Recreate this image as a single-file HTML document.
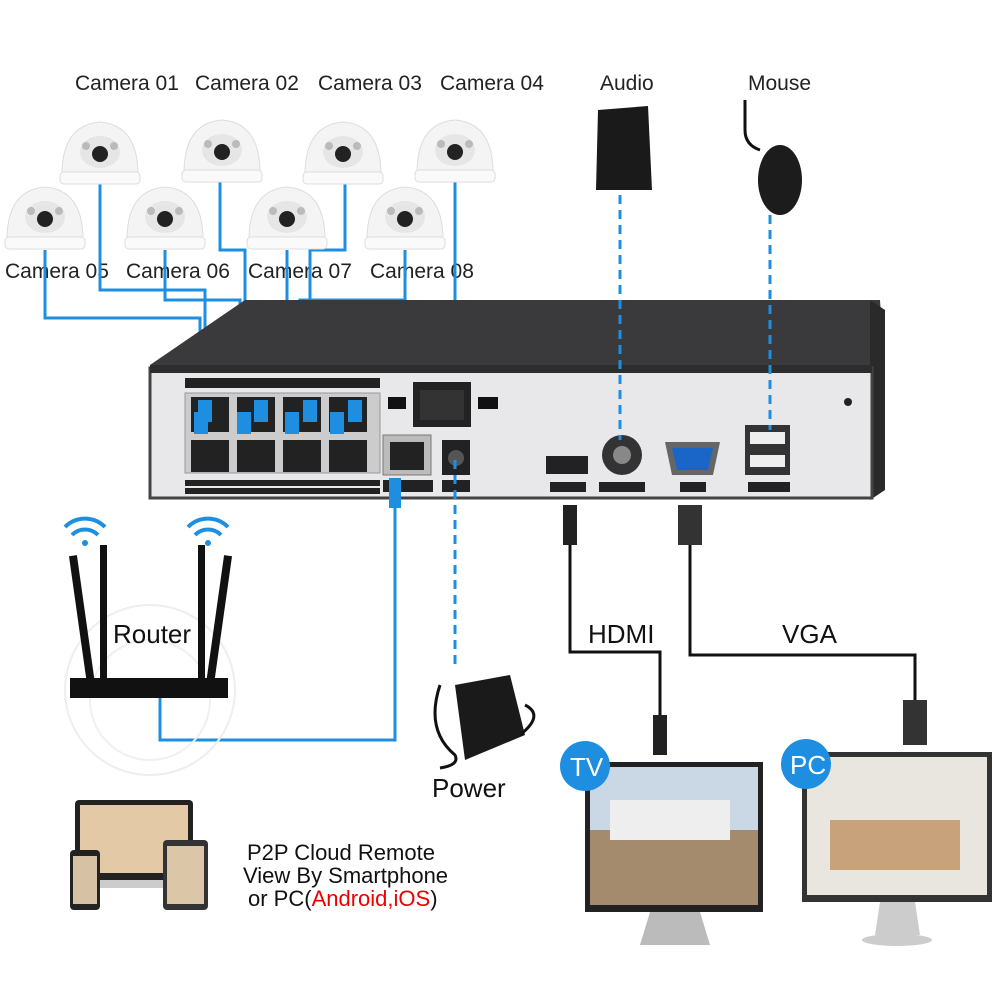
<!DOCTYPE html>
<html><head><meta charset="utf-8"><style>
html,body{margin:0;padding:0;background:#fff}
svg{display:block}
text{font-family:"Liberation Sans",sans-serif}
</style></head><body>
<svg width="1000" height="1000" viewBox="0 0 1000 1000" xmlns="http://www.w3.org/2000/svg">
<rect width="1000" height="1000" fill="#fff"/>
<g font-size="21" fill="#222">
<text x="75" y="90">Camera 01</text><text x="195" y="90">Camera 02</text>
<text x="318" y="90">Camera 03</text><text x="440" y="90">Camera 04</text>
<text x="5" y="278">Camera 05</text><text x="126" y="278">Camera 06</text>
<text x="248" y="278">Camera 07</text><text x="370" y="278">Camera 08</text>
<text x="600" y="90">Audio</text><text x="748" y="90">Mouse</text>
</g>
<defs>
<g id="cam">
<path d="M-38,25 Q-38,-25 0,-28 Q38,-25 38,25 Z" fill="#f4f4f4" stroke="#ddd"/>
<rect x="-40" y="22" width="80" height="12" rx="4" fill="#fafafa" stroke="#ddd"/>
<ellipse cx="0" cy="2" rx="20" ry="16" fill="#e6e6e6"/>
<circle cx="0" cy="4" r="8" fill="#222"/>
<circle cx="-14" cy="-4" r="4" fill="#bbb"/><circle cx="14" cy="-4" r="4" fill="#bbb"/>
</g>
<g id="wifi" fill="none" stroke="#1e8fe0" stroke-width="4">
<path d="M-20,-8 A28,28 0 0 1 20,-8"/><path d="M-13,0 A18,18 0 0 1 13,0"/><circle cx="0" cy="8" r="3" fill="#1e8fe0" stroke="none"/>
</g>
</defs>
<g fill="none" stroke="#1e8fe0" stroke-width="3">
<path d="M100,180 V290 H205 V400"/>
<path d="M220,180 V250 H245 V430"/>
<path d="M345,180 V250 H310 V430"/>
<path d="M455,180 V318 H355 V400"/>
<path d="M45,250 V318 H200 V430"/>
<path d="M165,250 V300 H240 V400"/>
<path d="M287,250 V430"/>
<path d="M405,250 V300 H300 V400"/>
</g>
<use href="#cam" x="100" y="150"/><use href="#cam" x="222" y="148"/>
<use href="#cam" x="343" y="150"/><use href="#cam" x="455" y="148"/>
<use href="#cam" x="45" y="215"/><use href="#cam" x="165" y="215"/>
<use href="#cam" x="287" y="215"/><use href="#cam" x="405" y="215"/>
<path d="M598,110 L648,106 L652,190 L596,190 Z" fill="#1a1a1a"/>
<path d="M745,100 V130 Q745,145 760,150" stroke="#111" stroke-width="3" fill="none"/>
<ellipse cx="780" cy="180" rx="22" ry="35" fill="#1c1c1c"/>
<path d="M150,365 L245,300 L880,300 L885,380 L150,380 Z" fill="#3a3a3c"/>
<path d="M870,300 L885,310 L885,490 L870,500 Z" fill="#2a2a2a"/>
<rect x="150" y="368" width="722" height="130" fill="#e8e8ea" stroke="#444" stroke-width="3"/>
<rect x="150" y="365" width="722" height="8" fill="#2d2d2d"/>
<rect x="185" y="378" width="195" height="10" fill="#222"/>
<rect x="185" y="393" width="195" height="80" fill="#ccc" stroke="#999"/>
<g fill="#222">
<rect x="191" y="397" width="38" height="35"/><rect x="237" y="397" width="38" height="35"/>
<rect x="283" y="397" width="38" height="35"/><rect x="329" y="397" width="38" height="35"/>
<rect x="191" y="440" width="38" height="32"/><rect x="237" y="440" width="38" height="32"/>
<rect x="283" y="440" width="38" height="32"/><rect x="329" y="440" width="38" height="32"/>
<rect x="185" y="480" width="195" height="6"/><rect x="185" y="488" width="195" height="6"/>
</g>
<g fill="#1e8fe0">
<rect x="198" y="400" width="14" height="22"/><rect x="237" y="412" width="14" height="22"/>
<rect x="254" y="400" width="14" height="22"/><rect x="285" y="412" width="14" height="22"/>
<rect x="303" y="400" width="14" height="22"/><rect x="330" y="412" width="14" height="22"/>
<rect x="348" y="400" width="14" height="22"/><rect x="194" y="412" width="14" height="22"/>
</g>
<rect x="413" y="382" width="58" height="45" fill="#222"/><rect x="420" y="390" width="44" height="30" fill="#333"/>
<rect x="388" y="397" width="18" height="12" fill="#111"/><rect x="478" y="397" width="20" height="12" fill="#111"/>
<rect x="383" y="435" width="48" height="40" fill="#bbb" stroke="#777"/><rect x="390" y="442" width="34" height="28" fill="#222"/>
<rect x="442" y="440" width="28" height="35" fill="#222"/><circle cx="456" cy="458" r="8" fill="#555"/>
<rect x="383" y="480" width="50" height="12" fill="#222"/><rect x="442" y="480" width="28" height="12" fill="#222"/>
<rect x="546" y="456" width="42" height="18" fill="#222"/><rect x="550" y="482" width="36" height="10" fill="#222"/>
<circle cx="622" cy="455" r="20" fill="#333"/><circle cx="622" cy="455" r="9" fill="#888"/>
<rect x="599" y="482" width="46" height="10" fill="#222"/>
<path d="M665,442 H720 L713,475 H672 Z" fill="#666"/><path d="M672,448 H713 L708,470 H677 Z" fill="#1a66c8"/>
<rect x="680" y="482" width="26" height="10" fill="#222"/>
<rect x="745" y="425" width="45" height="50" fill="#333"/><rect x="750" y="432" width="35" height="12" fill="#eee"/><rect x="750" y="455" width="35" height="12" fill="#eee"/>
<rect x="748" y="482" width="42" height="10" fill="#222"/>
<circle cx="848" cy="402" r="4" fill="#222"/>
<g stroke="#1e8fe0" stroke-width="3" stroke-dasharray="9,6" fill="none">
<path d="M620,195 V440"/><path d="M770,215 V430"/><path d="M455,460 V670"/>
</g>
<path d="M395,480 V740 H160 V690" fill="none" stroke="#1e8fe0" stroke-width="3"/>
<rect x="389" y="478" width="12" height="30" fill="#1e8fe0"/>
<circle cx="150" cy="690" r="85" fill="none" stroke="#eee" stroke-width="2"/>
<circle cx="150" cy="700" r="60" fill="none" stroke="#f0f0f0" stroke-width="2"/>
<rect x="78" y="555" width="8" height="130" fill="#111" transform="rotate(-8 82 620)"/>
<rect x="100" y="545" width="7" height="135" fill="#111"/>
<rect x="198" y="545" width="7" height="135" fill="#111"/>
<rect x="215" y="555" width="8" height="130" fill="#111" transform="rotate(8 219 620)"/>
<rect x="70" y="678" width="158" height="20" fill="#111"/>
<use href="#wifi" x="85" y="535"/><use href="#wifi" x="208" y="535"/>
<text x="113" y="643" font-size="26" fill="#111">Router</text>
<path d="M455,685 L510,675 L525,735 L465,760 Z" fill="#1a1a1a"/>
<path d="M440,685 Q425,730 455,755 Q460,765 440,768" stroke="#111" stroke-width="3" fill="none"/>
<path d="M525,705 Q545,715 520,735" stroke="#111" stroke-width="3" fill="none"/>
<text x="432" y="797" font-size="26" fill="#111">Power</text>
<g stroke="#111" stroke-width="3" fill="none">
<path d="M570,540 V652 H660 V720"/><path d="M690,540 V655 H915 V700"/>
</g>
<rect x="563" y="505" width="14" height="40" fill="#222"/>
<rect x="653" y="715" width="14" height="40" fill="#222"/>
<rect x="678" y="505" width="24" height="40" fill="#333"/>
<rect x="903" y="700" width="24" height="45" fill="#333"/>
<text x="588" y="643" font-size="26" fill="#111">HDMI</text>
<text x="782" y="643" font-size="26" fill="#111">VGA</text>
<rect x="585" y="762" width="178" height="150" fill="#222"/>
<rect x="590" y="767" width="168" height="138" fill="#c9d8e4"/>
<rect x="590" y="830" width="168" height="75" fill="#a58b6d"/>
<rect x="610" y="800" width="120" height="40" fill="#eee"/>
<path d="M650,912 L640,945 H710 L700,912 Z" fill="#bbb"/>
<circle cx="585" cy="766" r="25" fill="#1e8fe0"/>
<text x="570" y="776" font-size="26" fill="#fff">TV</text>
<rect x="802" y="752" width="190" height="150" fill="#333"/>
<rect x="807" y="757" width="180" height="138" fill="#e9e6e0"/>
<rect x="830" y="820" width="130" height="50" fill="#c8a27a"/>
<path d="M880,902 L875,935 H920 L915,902 Z" fill="#ccc"/>
<ellipse cx="897" cy="940" rx="35" ry="6" fill="#ccc"/>
<circle cx="806" cy="764" r="25" fill="#1e8fe0"/>
<text x="790" y="774" font-size="26" fill="#fff">PC</text>
<rect x="75" y="800" width="118" height="80" rx="4" fill="#222"/>
<rect x="80" y="805" width="108" height="68" fill="#e3c9a6"/>
<rect x="70" y="880" width="130" height="8" fill="#ccc"/>
<rect x="70" y="850" width="30" height="60" rx="4" fill="#222"/><rect x="73" y="856" width="24" height="48" fill="#d7c1a5"/>
<rect x="163" y="840" width="45" height="70" rx="4" fill="#333"/><rect x="167" y="846" width="37" height="58" fill="#dcc6a8"/>
<g font-size="22" fill="#111">
<text x="247" y="860">P2P Cloud Remote</text>
<text x="243" y="883">View By Smartphone</text>
<text x="248" y="906">or PC(<tspan fill="#e00">Android,iOS</tspan>)</text>
</g>
</svg>
</body></html>
